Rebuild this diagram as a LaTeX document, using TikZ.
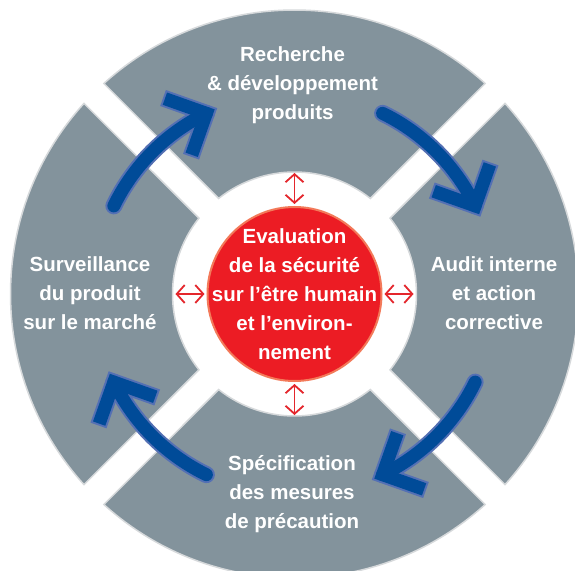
\documentclass[tikz,border=0pt]{standalone}
\usepackage{fontspec}
\setmainfont{Liberation Sans}
\usetikzlibrary{arrows.meta}

\definecolor{sectorgray}{RGB}{131,147,156}
\definecolor{sectoredge}{RGB}{214,217,219}
\definecolor{cycleblue}{RGB}{0,75,152}
\definecolor{cyclerim}{RGB}{84,112,180}
\definecolor{evalred}{RGB}{236,28,36}
\definecolor{evaledge}{RGB}{243,122,90}
\definecolor{linkred}{RGB}{228,38,44}

\begin{document}
\begin{tikzpicture}[x=1pt, y=1pt,
			sector/.style={fill=sectorgray, draw=sectoredge, line width=1.5pt},
			stagetext/.style={text=white, align=center, font=\fontsize{20.5}{29}\selectfont\bfseries},
			evalcircle/.style={circle, fill=evalred, draw=evaledge, line width=2pt, minimum size=174pt, inner sep=0pt},
			link/.style={draw=linkred, line width=1.8pt, {Straight Barb[length=8pt,width=18pt]}-{Straight Barb[length=8pt,width=18pt]}, shorten <=2pt},
			arrowrim/.style={draw=cyclerim, line width=17pt},
			arrowcore/.style={draw=cycleblue, line width=13pt}]
			\useasboundingbox (-294.5,-276) rectangle (280.5,294);
			\fill[white] (-294.5,-276) rectangle (280.5,294);
			% four quarter sectors
			\foreach \c in {90,0,-90,180}
				\filldraw[sector] ({\c-42.17}:284) arc[start angle=\c-42.17, end angle=\c+42.17, radius=284]
					-- ({\c+38.41}:122) arc[start angle=\c+38.41, end angle=\c-38.41, radius=122] -- cycle;
			% cycle arrows
			\foreach \st/\l in {arrowrim/46, arrowcore/44}
				\foreach \r in {0,-90,-180,-270}{
					\begin{scope}[rotate=\r]
						\draw[\st, line cap=round] (154:201) arc[start angle=154, end angle=116, radius=201];
						\draw[\st, line join=miter] (116:201) ++(160.5:\l) -- (116:201) -- ++(250.5:\l);
					\end{scope}
				}
			\node[evalcircle] (eval) at (0,0) {};
			\node[stagetext] (evaltext) at (eval.center) {Evaluation\\de la sécurité\\sur l’être humain\\et l’environ-\\nement};
			\node[stagetext] (rnd) at (-2,209) {Recherche\\\& développement\\produits};
			\node[stagetext] (audit) at (199.5,1) {Audit interne\\et action\\corrective};
			\node[stagetext] (spec) at (-2.5,-200) {Spécification\\des mesures\\de précaution};
			\node[stagetext] (surv) at (-204.5,1) {Surveillance\\du produit\\sur le marché};
			\coordinate (ringN) at (0,121);
			\coordinate (ringE) at (119,0);
			\coordinate (ringS) at (0,-121);
			\coordinate (ringW) at (-119,0);
			\draw[link] (eval.north) -- (ringN);
			\draw[link] (eval.east) -- (ringE);
			\draw[link] (eval.south) -- (ringS);
			\draw[link] (eval.west) -- (ringW);
\end{tikzpicture}
\end{document}
